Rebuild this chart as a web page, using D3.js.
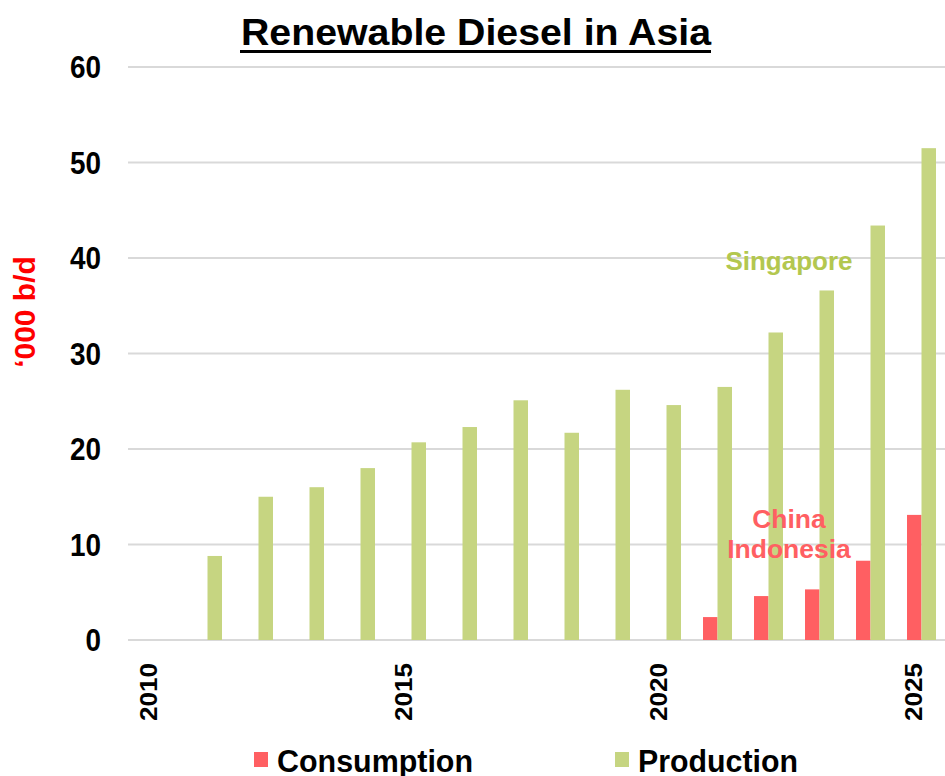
<!DOCTYPE html>
<html><head><meta charset="utf-8">
<script src="https://cdn.jsdelivr.net/npm/d3@7"></script>
<style>body{margin:0;background:#fff}svg{display:block}</style>
</head><body><svg id="c" width="945" height="776"></svg>
<script>
const years = [2010,2011,2012,2013,2014,2015,2016,2017,2018,2019,2020,2021,2022,2023,2024,2025];
const consumption = [0,0,0,0,0,0,0,0,0,0,0,2.4,4.6,5.3,8.3,13.1];
const production = [0,8.8,15.0,16.0,18.0,20.7,22.3,25.1,21.7,26.2,24.6,26.5,32.2,36.6,43.4,51.5];
const yTicks = [0,10,20,30,40,50,60];
const xTickYears = [2010,2015,2020,2025];
const seriesNames = ["Consumption","Production"];
const colors = {Consumption:"#FF5F62", Production:"#C6D581"};

const svg = d3.select("#c");
const y = d3.scaleLinear().domain([0,60]).range([640,67]);
const x = d3.scaleBand().domain(years).range([131,947]).paddingInner(0).paddingOuter(0);
const xs = d3.scaleBand().domain(seriesNames).range([0,x.bandwidth()]).paddingInner(0).paddingOuter(0.76);

// gridlines
svg.append("g").selectAll("line").data(yTicks).join("line")
  .attr("x1",128).attr("x2",945).attr("y1",d=>y(d)).attr("y2",d=>y(d))
  .attr("stroke","#D9D9D9").attr("stroke-width",2);

// y tick labels
svg.append("g").selectAll("text").data(yTicks).join("text")
  .attr("x",101).attr("y",d=>y(d)+11).attr("text-anchor","end")
  .attr("font-family","Liberation Sans Narrow, Liberation Sans, Arial").attr("font-weight","bold")
  .attr("font-size",31).attr("textLength",d=>String(d).length*15.5).attr("lengthAdjust","spacingAndGlyphs")
  .text(d=>d);

// bars
const data = years.map((yr,i)=>({year:yr, Consumption:consumption[i], Production:production[i]}));
const g = svg.append("g");
seriesNames.forEach(s=>{
  g.selectAll(null).data(data.filter(d=>d[s]>0)).join("rect")
    .attr("x",d=>x(d.year)+xs(s)).attr("width",xs.bandwidth())
    .attr("y",d=>y(d[s])).attr("height",d=>y(0)-y(d[s]))
    .attr("fill",colors[s]);
});

// x labels
svg.append("g").selectAll("text").data(xTickYears).join("text")
  .attr("transform",d=>`translate(${x(d)+x.bandwidth()/2},663) rotate(-90)`)
  .attr("text-anchor","end")
  .attr("font-family","Liberation Sans, Arial").attr("font-weight","bold")
  .attr("font-size",24).attr("textLength",58).attr("lengthAdjust","spacingAndGlyphs").text(d=>d);

// y axis title
svg.append("text").attr("transform","translate(35,312) rotate(-90)")
  .attr("text-anchor","middle").attr("fill","#FF0000")
  .attr("font-family","Liberation Sans, Arial").attr("font-weight","bold")
  .attr("font-size",30).text("‘000 b/d");

// title
svg.append("text").attr("x",476).attr("y",45).attr("text-anchor","middle")
  .attr("font-family","Liberation Sans Narrow, Liberation Sans, Arial").attr("font-weight","bold")
  .attr("font-size",37).attr("textLength",470).attr("lengthAdjust","spacingAndGlyphs")
  .text("Renewable Diesel in Asia");
svg.append("rect").attr("x",240).attr("y",50).attr("width",471).attr("height",3).attr("fill","#000");

// annotations
svg.append("text").attr("x",789).attr("y",270).attr("text-anchor","middle")
  .attr("fill","#B3C74F").attr("font-family","Liberation Sans, Arial").attr("font-weight","bold")
  .attr("font-size",26).text("Singapore");
const ann = svg.append("text").attr("text-anchor","middle").attr("fill","#FF5F62")
  .attr("font-family","Liberation Sans, Arial").attr("font-weight","bold").attr("font-size",26.5);
ann.append("tspan").attr("x",789).attr("y",528).text("China");
ann.append("tspan").attr("x",789).attr("y",558).text("Indonesia");

// legend
const leg = [{name:"Consumption",sx:254,tx:277,w:196},{name:"Production",sx:615,tx:638,w:160}];
leg.forEach(l=>{
  svg.append("rect").attr("x",l.sx).attr("y",752).attr("width",14).attr("height",15).attr("fill",colors[l.name]);
  svg.append("text").attr("x",l.tx).attr("y",772)
    .attr("font-family","Liberation Sans Narrow, Liberation Sans, Arial").attr("font-weight","bold")
    .attr("font-size",31).attr("textLength",l.w).attr("lengthAdjust","spacingAndGlyphs").text(l.name);
});
</script></body></html>
